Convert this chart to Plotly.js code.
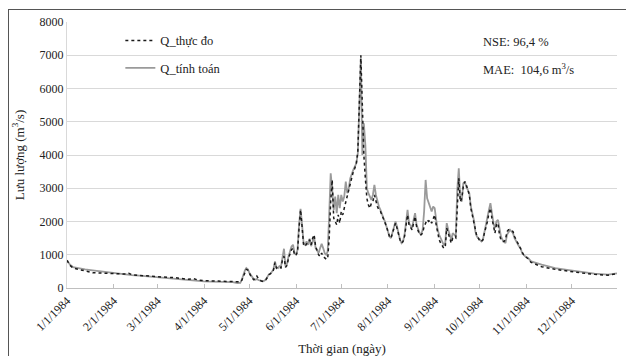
<!DOCTYPE html>
<html>
<head>
<meta charset="utf-8">
<script src="https://cdn.plot.ly/plotly-3.0.1.min.js"></script>
<style>
  html, body { margin: 0; padding: 0; background: #fff; }
  #chart { position: absolute; left: 0; top: 0; width: 626px; height: 356px; }
  #frame { position: absolute; left: 8px; top: 9px; width: 700px; height: 400px;
           border: 1px solid #555; pointer-events: none; }
</style>
</head>
<body>
<div id="chart"></div>
<div id="frame"></div>
<script>
// Day offsets from 1/1/1984
const dayOffset = [
  0,2,4,8,12,17,22,26,30,35,39,41,43,48,53,58,62,67,72,76,80,84,87,91,96,101,106,110,113,115,
  116,117,118,119,120,121,122,123,124,125,126,127,128,129,130,131,132,133,134,135,136,137,138,139,
  140,141,142,143,144,145,146,147,148,149,150,151,152,153,154,155,156,157,158,159,160,161,162,163,
  164,165,166,167,168,169,170,171,172,173,174,175,176,177,178,179,180,181,182,183,184,185,186,187,
  188,189,190,191,192,193,194,195,196,197,198,199,200,201,202,203,204,205,206,207,208,209,210,211,
  212,213,214,215,216,217,218,219,220,221,222,223,224,225,226,227,228,229,230,231,232,233,234,235,
  236,237,238,239,240,241,242,243,244,245,246,247,248,249,250,251,252,253,254,255,256,257,258,259,
  260,261,262,263,264,265,266,267,268,269,270,271,272,273,274,275,276,277,278,279,280,281,282,283,
  284,285,286,287,288,289,290,291,292,293,294,295,296,297,298,299,300,301,302,303,304,306,308,315,
  324,333,342,350,359,365
];
// Q_tính toán (simulated), m3/s
const qTinhToan = [
  834,700,630,590,560,530,500,470,450,420,400,390,385,370,350,320,300,290,270,250,230,220,210,200,190,185,180,175,150,155,
  250,400,520,600,560,460,380,300,260,250,270,240,220,210,205,220,260,330,410,420,480,560,800,620,
  600,660,640,900,1180,650,720,950,1100,1250,1300,1050,1000,1150,1900,2380,1900,1350,1300,1400,1300,1480,1260,1400,
  1530,1200,1100,1050,1200,1330,1200,1050,1000,1100,2200,3450,2950,2350,2750,2250,2800,2400,2800,2600,2750,3200,2850,3000,
  3300,3450,3550,3650,3750,4050,5800,6900,4000,4950,4300,3000,2850,2750,2650,2800,3100,2800,2600,2450,2350,2200,2100,2000,
  1850,1700,1550,1500,1650,1800,2000,1850,1600,1450,1350,1400,1600,2050,2350,1950,1850,1800,2050,2250,1900,1750,1650,1600,
  1750,2300,3250,2700,2550,2400,2300,2450,2400,2050,1750,1600,1500,1350,1300,1350,1950,1750,1600,1450,1650,1600,1550,2950,
  3600,2700,2600,3150,3200,3050,2950,2850,2450,2250,2050,1700,1550,1500,1450,1400,1450,1700,1900,2100,2350,2550,2200,1950,
  1800,2000,2050,1750,1550,1450,1400,1350,1600,1700,1750,1700,1650,1500,1400,1300,1250,1200,1050,1000,950,900,800,700,
  600,540,480,430,400,440
];
// Q_thực đo (observed), m3/s
const qThucDo = [
  834,680,600,560,520,460,450,440,420,410,420,440,400,380,360,340,330,320,310,290,260,280,240,220,210,205,200,195,190,185,
  230,350,480,560,540,430,360,290,250,300,360,280,230,210,200,220,250,320,400,430,460,540,760,600,
  640,620,600,850,950,620,680,900,1020,1150,1200,1000,980,1100,1800,2350,1850,1300,1250,1350,1400,1450,1300,1500,
  1600,1250,1100,1000,950,1050,950,900,870,880,1500,2600,3250,2100,2000,1900,2200,1950,2300,2200,2400,2600,2700,2900,
  3150,3350,3500,3600,3750,4100,6000,7000,5500,4000,3300,2700,2500,2400,2550,2600,2800,2600,2450,2350,2300,2200,2100,2000,
  1850,1700,1550,1500,1650,1800,1950,1800,1600,1450,1350,1400,1550,1950,2200,1900,1800,1750,1950,2150,1850,1700,1600,1600,
  1650,1850,1950,2050,2000,2050,1950,2050,2200,1900,1650,1450,1350,1250,1200,1220,1800,1650,1500,1350,1500,1520,1500,2600,
  3300,2600,2700,3050,3200,3100,2950,2800,2400,2200,2000,1700,1550,1500,1400,1400,1450,1650,1800,2000,2250,2400,2100,1800,
  1650,1900,1950,1600,1450,1400,1400,1450,1700,1750,1750,1720,1700,1550,1450,1350,1250,1200,1050,1000,950,880,770,640,
  560,500,450,410,385,430
];
const tickDates = ['1984-01-01','1984-02-01','1984-03-01','1984-04-01','1984-05-01','1984-06-01',
                   '1984-07-01','1984-08-01','1984-09-01','1984-10-01','1984-11-01','1984-12-01'];
const tickLabels = ['1/1/1984','2/1/1984','3/1/1984','4/1/1984','5/1/1984','6/1/1984',
                    '7/1/1984','8/1/1984','9/1/1984','10/1/1984','11/1/1984','12/1/1984'];

function toDate(d) {
  const dt = new Date(Date.UTC(1984, 0, 1 + d));
  return dt.toISOString().slice(0, 10);
}
const dates = dayOffset.map(toDate);
const serif = 'Liberation Serif';

const traces = [
  {
    x: dates, y: qTinhToan, type: 'scatter', mode: 'lines', name: 'Q_tính toán',
    line: { color: '#9a9a9a', width: 1.8 }, legendgroup: 'b', legendrank: 2
  },
  {
    x: dates, y: qThucDo, type: 'scatter', mode: 'lines', name: 'Q_thực đo',
    line: { color: '#1a1a1a', width: 1.5, dash: 'dot' }, legendgroup: 'a', legendrank: 1
  }
];

const layout = {
  width: 626, height: 356,
  margin: { l: 67, r: 9, t: 22, b: 68 },
  paper_bgcolor: '#ffffff', plot_bgcolor: '#ffffff',
  font: { family: serif, size: 11, color: '#222' },
  showlegend: true,
  legend: {
    x: 0.097, y: 0.985, xanchor: 'left', yanchor: 'top',
    bgcolor: 'rgba(0,0,0,0)', font: { family: serif, size: 12.5, color: '#222' },
    tracegroupgap: 8, itemwidth: 30
  },
  xaxis: {
    type: 'date', range: ['1984-01-01', '1984-12-31'],
    tickvals: tickDates, ticktext: tickLabels, tickangle: -45,
    showgrid: false, showline: true, linecolor: '#bfbfbf', linewidth: 1,
    ticks: 'inside', ticklen: 4, tickcolor: '#bfbfbf',
    tickfont: { family: serif, size: 12, color: '#222' },
    title: { text: 'Thời gian (ngày)', font: { family: serif, size: 13, color: '#222' }, standoff: 8 },
    zeroline: false
  },
  yaxis: {
    range: [0, 8000], dtick: 1000, tickformat: 'd',
    showgrid: true, gridcolor: '#d9d9d9', gridwidth: 1,
    showline: true, linecolor: '#d9d9d9', ticks: '',
    tickfont: { family: serif, size: 12, color: '#222' },
    title: { text: 'Lưu lượng (m<sup>3</sup>/s)', font: { family: serif, size: 13, color: '#222' }, standoff: 12 },
    zeroline: false
  },
  annotations: [
    { xref: 'paper', yref: 'paper', x: 0.752, y: 0.925, xanchor: 'left', yanchor: 'middle',
      text: 'NSE: 96,4 %', showarrow: false, font: { family: serif, size: 12.5, color: '#222' } },
    { xref: 'paper', yref: 'paper', x: 0.752, y: 0.825, xanchor: 'left', yanchor: 'middle',
      text: 'MAE:  104,6 m<sup>3</sup>/s', showarrow: false, font: { family: serif, size: 12.5, color: '#222' } }
  ]
};

Plotly.newPlot('chart', traces, layout, { displayModeBar: false, staticPlot: true });
</script>
</body>
</html>
